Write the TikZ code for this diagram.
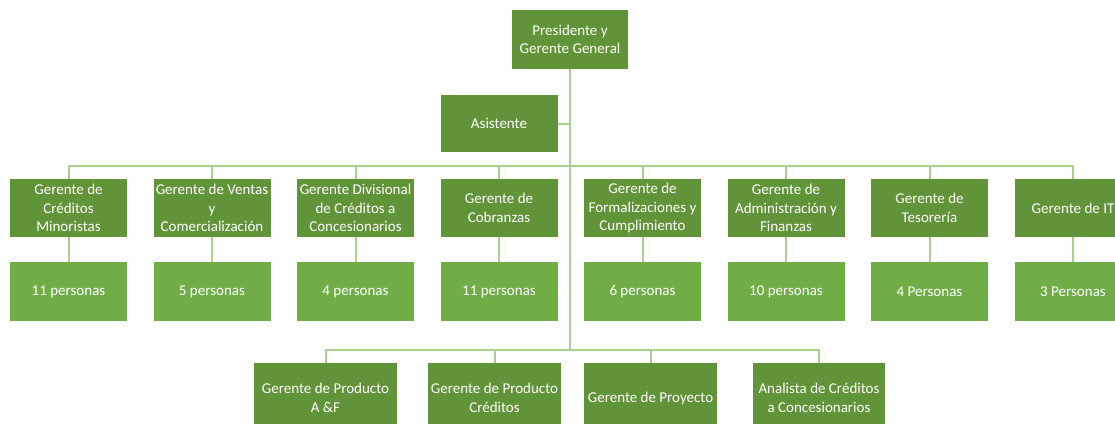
\documentclass[tikz,border=0pt]{standalone}
\usepackage{fontspec}
\setmainfont{Carlito}
\definecolor{verdeosc}{RGB}{97,148,56}
\definecolor{verdeclr}{RGB}{112,173,71}
\definecolor{verdelin}{RGB}{169,209,142}

\begin{document}
\begin{tikzpicture}[x=1pt,y=-1pt,
  jefe/.style={rectangle,fill=verdeosc,text=white,minimum width=117pt,minimum height=58pt,inner sep=0pt,align=center,font=\fontsize{15}{18.5}\selectfont},
  equipo/.style={jefe,fill=verdeclr,minimum height=59pt},
  abajo/.style={jefe,minimum height=70pt},
  linea/.style={verdelin,line width=2pt}]

\useasboundingbox (0,0) rectangle (1115,423);
\clip (0,0) rectangle (1115,423);

\node (pres)[jefe,minimum width=116pt,minimum height=59pt] at (570,39.5) {Presidente y\\Gerente General};
\node (asis)[jefe,minimum height=57pt] at (499,123.5) {Asistente};

\node (g1)[jefe] at (68.5,208) {Gerente de\\Créditos\\Minoristas};
\node (g2)[jefe] at (212,208) {Gerente de Ventas\\y\\Comercialización};
\node (g3)[jefe] at (355.5,208) {Gerente Divisional\\de Créditos a\\Concesionarios};
\node (g4)[jefe] at (499,208) {Gerente de\\Cobranzas};
\node (g5)[jefe] at (642.5,208) {Gerente de\\Formalizaciones y\\Cumplimiento};
\node (g6)[jefe] at (786,208) {Gerente de\\Administración y\\Finanzas};
\node (g7)[jefe] at (929.5,208) {Gerente de\\Tesorería};
\node (g8)[jefe] at (1073,208) {Gerente de IT};

\node (p1)[equipo] at (68.5,291.5) {11 personas};
\node (p2)[equipo] at (212,291.5) {5 personas};
\node (p3)[equipo] at (355.5,291.5) {4 personas};
\node (p4)[equipo] at (499,291.5) {11 personas};
\node (p5)[equipo] at (642.5,291.5) {6 personas};
\node (p6)[equipo] at (786,291.5) {10 personas};
\node (p7)[equipo] at (929.5,291.5) {4 Personas};
\node (p8)[equipo] at (1073,291.5) {3 Personas};

\node (q1)[abajo,minimum width=143pt] at (325.5,398) {Gerente de Producto\\A \&F};
\node (q2)[abajo,minimum width=133pt] at (494.5,398) {Gerente de Producto\\Créditos};
\node (q3)[abajo,minimum width=133pt] at (650.5,398) {Gerente de Proyecto};
\node (q4)[abajo,minimum width=132pt] at (819,398) {Analista de Créditos\\a Concesionarios};

\coordinate (r1) at (570,166);
\coordinate (r2) at (570,350);

\draw[linea] (pres) -- (r2);
\draw[linea] (asis.east) -- (asis.east -| pres.south);
\draw[linea] (g1.north) |- (r1) -| (g8.north);
\foreach \i in {2,...,7}
  \draw[linea] (g\i.north) -- (g\i.north |- r1);
\foreach \i in {1,...,8}
  \draw[linea] (g\i) -- (p\i);
\draw[linea] (q1.north) |- (r2) -| (q4.north);
\foreach \i in {2,3}
  \draw[linea] (q\i.north) -- (q\i.north |- r2);

\end{tikzpicture}
\end{document}
